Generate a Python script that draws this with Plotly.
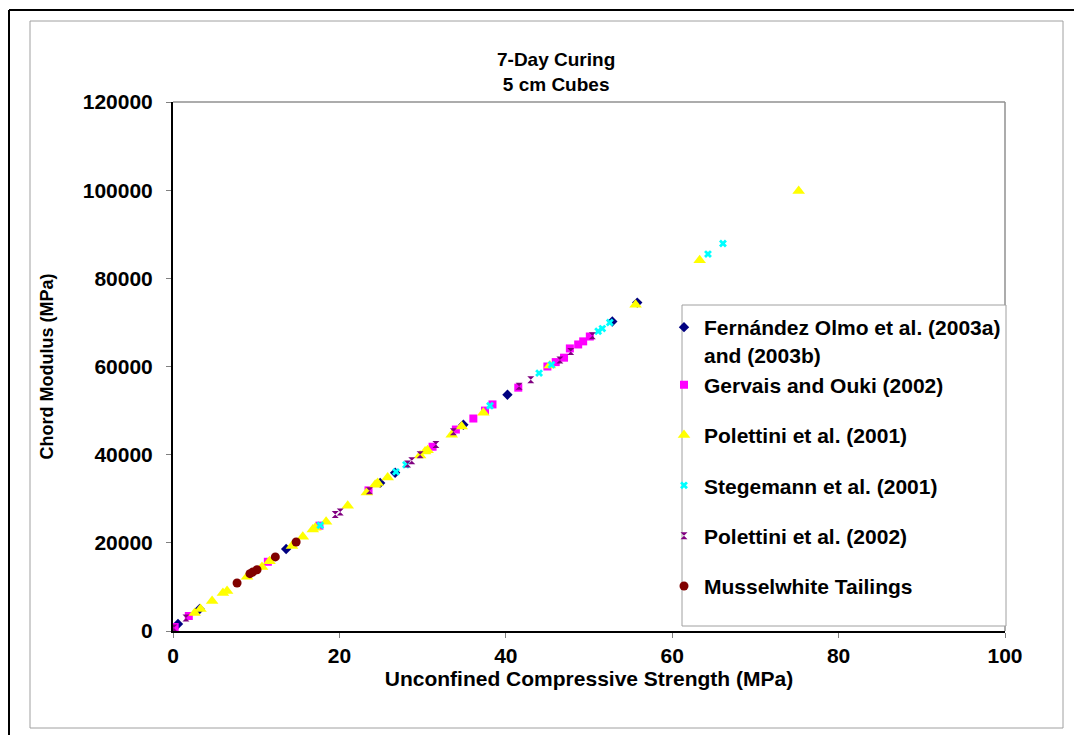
import plotly.graph_objects as go

# ---------------- data (UCS MPa, Chord modulus MPa) ----------------
fern_x = [0.6, 3.2, 13.6, 24.9, 26.7, 34.9, 40.2, 52.8, 55.8]
fern_y = [1600, 5000, 18600, 33600, 35900, 46800, 53600, 70200, 74500]

gerv_x = [0.2, 1.9, 11.4, 17.6, 23.5, 31.2, 34.0, 36.1, 37.5, 38.4, 41.5, 45.0, 46.0, 47.0, 47.7, 48.7, 49.3, 50.1]
gerv_y = [900, 3400, 15700, 23900, 31900, 41800, 45700, 48200, 50000, 51400, 55200, 60000, 61000, 62000, 64100, 65000, 65700, 66800]

pol01_x = [2.6, 3.3, 4.7, 6.0, 6.5, 8.9, 10.7, 11.6, 14.3, 15.6, 16.8, 17.1, 18.4, 21.0, 23.3, 24.3, 24.6, 25.8,
           29.7, 30.3, 30.6, 33.5, 34.7, 37.3, 45.3, 55.6, 63.3, 75.2]
pol01_y = [4100, 5000, 6800, 8600, 9100, 12300, 14500, 15800, 19300, 21400, 23000, 23400, 24800, 28400, 31400, 33200, 33600, 34800,
           39800, 40700, 41000, 44500, 46400, 49500, 60200, 74000, 84100, 99800]

steg_x = [17.7, 26.8, 28.0, 38.1, 44.0, 45.5, 51.1, 51.6, 52.5, 64.3, 66.1]
steg_y = [24000, 36100, 37700, 51100, 58500, 60400, 68000, 68600, 70000, 85500, 87900]

pol02_x = [0.1, 1.56, 19.5, 20.1, 23.6, 28.2, 28.7, 29.7, 31.6, 33.7, 41.6, 43.0, 46.5, 47.8, 50.4]
pol02_y = [700, 2950, 26400, 27000, 31800, 37900, 38600, 40000, 42300, 45200, 55500, 57000, 61500, 63400, 67000]

muss_x = [7.7, 9.25, 9.6, 10.1, 12.3, 14.8]
muss_y = [10900, 13000, 13400, 13900, 16800, 20200]

series = [
    ("Fernández Olmo et al. (2003a)<br>and (2003b)", fern_x, fern_y, "diamond", "#000080", 8, "g0"),
    ("Gervais and Ouki (2002)", gerv_x, gerv_y, "square", "#FF00FF", 8, "g0"),
    ("Polettini et al. (2001)", pol01_x, pol01_y, "triangle-up", "#FFFF00", 11, "g2"),
    ("Stegemann et al. (2001)", steg_x, steg_y, "x", "#00FFFF", 7, "g3"),
    ("Polettini et al. (2002)", pol02_x, pol02_y, "hourglass", "#800080", 7, "g4"),
    ("Musselwhite Tailings", muss_x, muss_y, "circle", "#800000", 9, "g5"),
]

x_ticks = [0, 20, 40, 60, 80, 100]
y_ticks = [0, 20000, 40000, 60000, 80000, 100000, 120000]

FONT = "Liberation Sans"

fig = go.Figure()
for name, xs, ys, sym, col, sz, grp in series:
    fig.add_trace(go.Scatter(
        x=xs, y=ys, mode="markers", name=f"<b>{name.replace('<br>', '</b><br><b>')}</b>",
        legendgroup=grp,
        marker=dict(symbol=sym, color=col, size=sz, line=dict(width=0)),
    ))

W, H = 1074, 735
L, R, T, B = 173, 1005, 102, 631
pw, ph = R - L, B - T

def px(xp):
    return (xp - L) / pw

def py(yp):
    return (B - yp) / ph

shapes = [
    # outer black frame (top + left)
    dict(type="line", xref="paper", yref="paper", x0=px(9), x1=px(1080), y0=py(10), y1=py(10),
         line=dict(color="black", width=2)),
    dict(type="line", xref="paper", yref="paper", x0=px(9), x1=px(9), y0=py(10), y1=py(740),
         line=dict(color="black", width=2)),
    # inner gray chart-area frame
    dict(type="rect", xref="paper", yref="paper", x0=px(30), x1=px(1063), y0=py(21), y1=py(728),
         line=dict(color="#A0A0A0", width=1)),
    # plot-area top and right border
    dict(type="line", xref="paper", yref="paper", x0=0, x1=1, y0=1, y1=1,
         line=dict(color="#909090", width=1.5)),
    dict(type="line", xref="paper", yref="paper", x0=1, x1=1, y0=0, y1=1,
         line=dict(color="#909090", width=1.5)),
    # legend box
    dict(type="rect", xref="paper", yref="paper", x0=px(682), x1=px(1006), y0=py(305), y1=py(626),
         line=dict(color="#A0A0A0", width=1), fillcolor="white"),
]

fig.update_layout(
    width=W, height=H,
    margin=dict(l=L, r=W - R, t=T, b=H - B, pad=0),
    paper_bgcolor="white", plot_bgcolor="white",
    font=dict(family=FONT, size=20, color="black"),
    showlegend=True,
    legend=dict(
        x=px(664), y=py(307), xanchor="left", yanchor="top",
        borderwidth=0, bgcolor="rgba(0,0,0,0)",
        font=dict(family=FONT, size=21, color="black"),
        tracegroupgap=20, valign="top", itemwidth=30,
    ),
    annotations=[
        dict(text="7-Day Curing<br>5 cm Cubes", xref="paper", yref="paper",
             x=px(556), y=py(72), xanchor="center", yanchor="middle", showarrow=False,
             font=dict(family=FONT, size=19, color="black", weight="bold")),
    ],
    shapes=shapes,
    xaxis=dict(
        range=[0, 100], tickvals=x_ticks, ticktext=[f"<b>{v}</b>" for v in x_ticks],
        showgrid=False, zeroline=False, showline=True, linecolor="black", linewidth=2,
        ticks="outside", ticklen=5, tickcolor="#808080",
        tickfont=dict(family=FONT, size=21),
        title=dict(text="<b>Unconfined Compressive Strength (MPa)</b>", standoff=2,
                   font=dict(family=FONT, size=21)),
    ),
    yaxis=dict(
        range=[0, 120000], tickvals=y_ticks, ticktext=[f"<b>{v}</b>" for v in y_ticks],
        showgrid=False, zeroline=False, showline=True, linecolor="black", linewidth=2,
        ticks="outside", ticklen=5, tickcolor="#808080", ticklabelstandoff=9,
        tickfont=dict(family=FONT, size=21),
        title=dict(text="<b>Chord Modulus (MPa)</b>", standoff=24,
                   font=dict(family=FONT, size=18)),
    ),
)

fig.write_html("out.html")
